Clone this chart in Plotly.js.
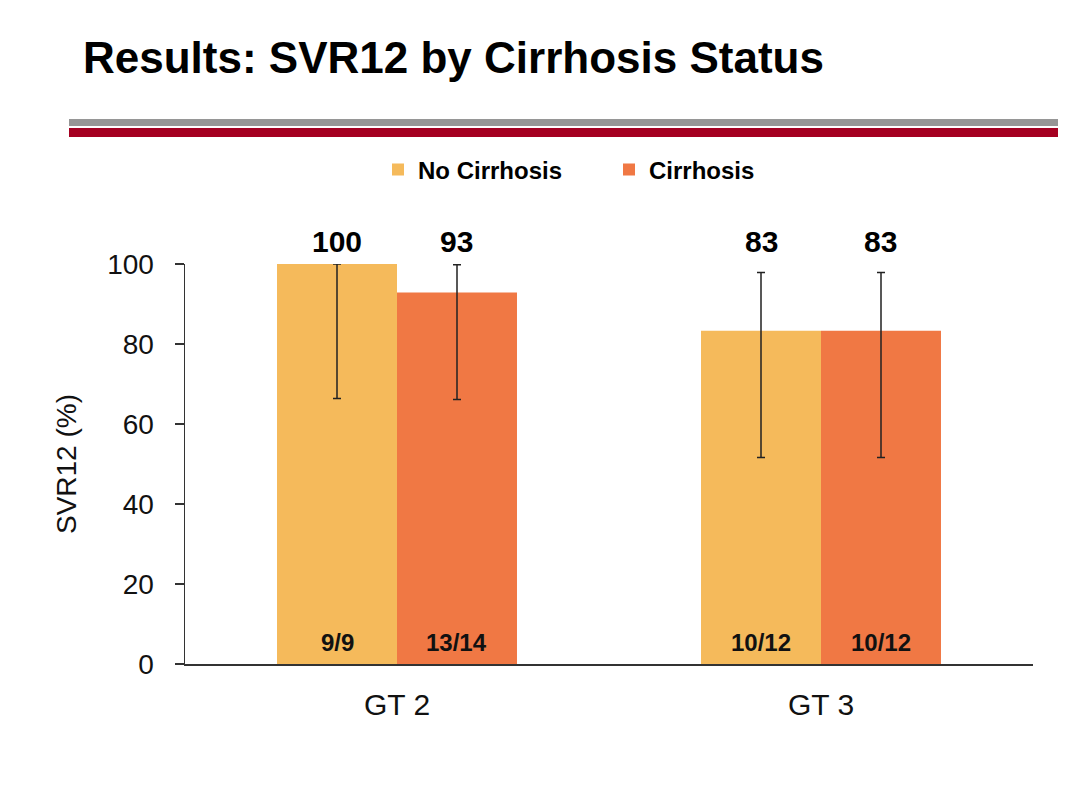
<!DOCTYPE html>
<html>
<head>
<meta charset="utf-8">
<script src="https://cdn.plot.ly/plotly-3.0.1.min.js"></script>
<style>html,body{margin:0;padding:0;background:#fff;}#chart{width:1088px;height:793px;}</style>
</head>
<body>
<div id="chart"></div>
<script>
// ---- data ----
const categories = ['GT 2', 'GT 3'];
const seriesNames = ['No Cirrhosis', 'Cirrhosis'];
const noCirrhosis = [100, 83.3];
const cirrhosis = [92.9, 83.3];
const noCirrhosisCIlow = [66.4, 51.6];
const noCirrhosisCIhigh = [100, 97.9];
const cirrhosisCIlow = [66.1, 51.6];
const cirrhosisCIhigh = [99.8, 97.9];
const noCirrhosisLabels = ['100', '83'];
const cirrhosisLabels = ['93', '83'];
const noCirrhosisRatios = ['9/9', '10/12'];
const cirrhosisRatios = ['13/14', '10/12'];
const yTicks = [0, 20, 40, 60, 80, 100];

// ---- style ----
const FONT = '"Liberation Sans", Arial, sans-serif';
const colors = ['#F5BA5B', '#F07844'];
const W = 1088, H = 793;
const M = {l: 185, r: 55, t: 264, b: 129};
const plotW = W - M.l - M.r, plotH = H - M.t - M.b;
const bargap = 0.434;
const barOffset = (1 - bargap) / 4 * (plotW / categories.length);

const px = x => (x - M.l) / plotW;
const py = y => (H - M.b - y) / plotH;

function errs(vals, lo, hi) {
  return {
    type: 'data', symmetric: false,
    array: vals.map((v, i) => Math.max(0, hi[i] - v)),
    arrayminus: vals.map((v, i) => v - lo[i]),
    color: '#222', thickness: 1.5, width: 4
  };
}

const traces = [
  {type: 'bar', name: '<b>' + seriesNames[0] + '</b>', x: categories, y: noCirrhosis,
   marker: {color: colors[0]}, error_y: errs(noCirrhosis, noCirrhosisCIlow, noCirrhosisCIhigh),
   hoverinfo: 'x+y'},
  {type: 'bar', name: '<b>' + seriesNames[1] + '</b>', x: categories, y: cirrhosis,
   marker: {color: colors[1]}, error_y: errs(cirrhosis, cirrhosisCIlow, cirrhosisCIhigh),
   hoverinfo: 'x+y'}
];

const annotations = [];
const groups = [[noCirrhosisLabels, noCirrhosisRatios, -barOffset], [cirrhosisLabels, cirrhosisRatios, barOffset]];
groups.forEach(([labels, ratios, shift]) => {
  categories.forEach((c, i) => {
    annotations.push({x: c, y: 100, xref: 'x', yref: 'y', xshift: shift, yshift: 4,
      yanchor: 'bottom', showarrow: false, text: '<b>' + labels[i] + '</b>',
      font: {family: FONT, size: 30, color: '#000'}});
    annotations.push({x: c, y: 0, xref: 'x', yref: 'y', xshift: shift, yshift: 6,
      yanchor: 'bottom', showarrow: false, text: '<b>' + ratios[i] + '</b>',
      font: {family: FONT, size: 24, color: '#111'}});
  });
});

const shapes = [
  {type: 'rect', xref: 'paper', yref: 'paper', x0: px(69), x1: px(1058), y0: py(119), y1: py(126),
   fillcolor: '#969696', line: {width: 0}, layer: 'above'},
  {type: 'rect', xref: 'paper', yref: 'paper', x0: px(69), x1: px(1058), y0: py(128), y1: py(137),
   fillcolor: '#A50021', line: {width: 0}, layer: 'above'}
];

const layout = {
  width: W, height: H,
  margin: M,
  paper_bgcolor: '#fff', plot_bgcolor: '#fff',
  font: {family: FONT, color: '#111'},
  title: {text: '<b>Results: SVR12 by Cirrhosis Status</b>', x: 83 / W, xanchor: 'left',
          y: 1 - 58 / H, yanchor: 'middle', xref: 'container', yref: 'container',
          font: {family: FONT, size: 44, color: '#000'}},
  barmode: 'group', bargap: bargap, bargroupgap: 0,
  showlegend: true,
  legend: {orientation: 'h', x: px(378), xanchor: 'left', y: py(170), yanchor: 'middle',
           font: {family: FONT, size: 24, color: '#000'}, itemwidth: 30,
           entrywidth: 186, entrywidthmode: 'pixels',
           traceorder: 'normal', itemclick: false},
  xaxis: {type: 'category', showline: true, linecolor: '#333', linewidth: 1.5,
          ticks: '', showgrid: false, zeroline: false, fixedrange: true,
          tickfont: {family: FONT, size: 30, color: '#111'}, ticklabelstandoff: 13},
  yaxis: {range: [0, 100], tickvals: yTicks, showline: true, linecolor: '#333', linewidth: 1.5,
          ticks: 'outside', ticklen: 9, tickwidth: 1.5, tickcolor: '#333',
          showgrid: false, zeroline: false, fixedrange: true,
          tickfont: {family: FONT, size: 28, color: '#111'}, ticklabelstandoff: 15,
          title: {text: 'SVR12 (%)', font: {family: FONT, size: 28, color: '#111'}, standoff: 22}},
  annotations: annotations,
  shapes: shapes
};

Plotly.newPlot('chart', traces, layout, {displayModeBar: false, staticPlot: true});
</script>
</body>
</html>
